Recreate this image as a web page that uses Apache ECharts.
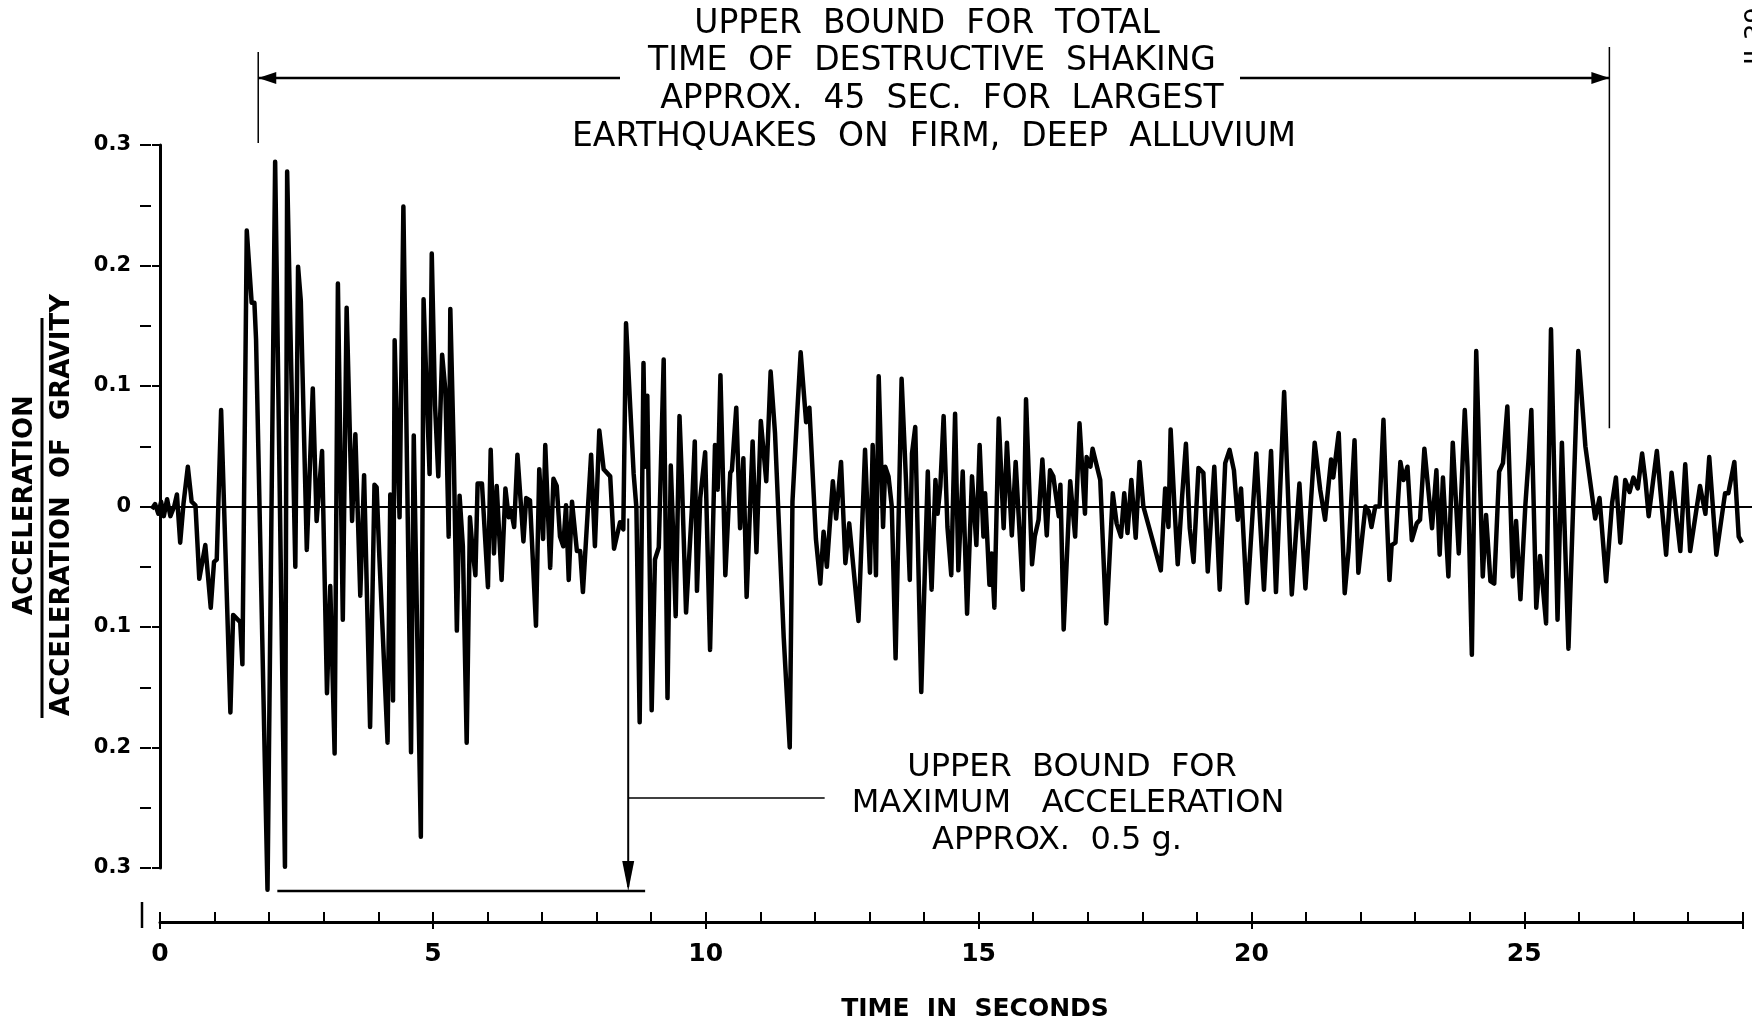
<!DOCTYPE html>
<html>
<head>
<meta charset="utf-8">
<script src="https://cdn.jsdelivr.net/npm/echarts@6/dist/echarts.min.js"></script>
<style>
  html, body { margin: 0; padding: 0; background: #fff; }
  #main { width: 1752px; height: 1025px; }
</style>
</head>
<body>
<div id="main"></div>
<script>
// time (s) of each turning point of the trace
var times = [
  -0.15, -0.09, -0.03, 0.02, 0.07, 0.13, 0.19, 0.26, 0.31, 0.37, 0.43, 0.51, 0.58, 0.65, 0.72, 0.83, 0.93, 0.99, 1.04, 1.12,
  1.29, 1.34, 1.47, 1.51, 1.59, 1.68, 1.73, 1.76, 1.97, 2.11, 2.29, 2.33, 2.48, 2.53, 2.58, 2.69, 2.80, 2.87, 2.97, 3.06,
  3.12, 3.20, 3.26, 3.35, 3.42, 3.52, 3.58, 3.67, 3.74, 3.85, 3.93, 3.97, 4.02, 4.17, 4.22,
  4.27, 4.30, 4.34, 4.39, 4.46, 4.60, 4.65, 4.69, 4.78, 4.83, 4.89, 4.94, 4.98, 5.04, 5.10, 5.17, 5.23, 5.29, 5.32, 5.38,
  5.44, 5.49, 5.55, 5.62, 5.68, 5.73, 5.78, 5.82, 5.90, 6.01, 6.06, 6.12, 6.17, 6.26, 6.33, 6.39, 6.43, 6.49, 6.55, 6.66,
  6.71, 6.78, 6.89, 6.95, 7.02, 7.06, 7.15, 7.21, 7.27, 7.33, 7.39, 7.44, 7.49, 7.55, 7.64, 7.70, 7.75, 7.90, 7.97, 8.05,
  8.13, 8.25, 8.32, 8.43, 8.49, 8.54, 8.62, 8.68,
  8.73, 8.79, 8.86, 8.89, 8.93, 9.01, 9.07, 9.14, 9.23, 9.30, 9.36, 9.40, 9.45, 9.52, 9.56, 9.64, 9.75, 9.80, 9.84, 9.90,
  9.99, 10.08, 10.17, 10.22, 10.27, 10.33, 10.36, 10.45, 10.48, 10.56, 10.63, 10.69, 10.75, 10.86, 10.93, 11.01, 11.11, 11.19, 11.27, 11.43,
  11.54, 11.59, 11.67, 11.74, 11.84, 11.90, 12.02, 12.10, 12.16, 12.22, 12.33, 12.39, 12.48, 12.56, 12.63, 12.80, 12.92, 13.01, 13.06, 13.12,
  13.17, 13.25, 13.29, 13.35, 13.41, 13.48, 13.59, 13.67, 13.74, 13.78, 13.84, 13.95, 14.07, 14.10, 14.14, 14.21, 14.25, 14.30, 14.36, 14.43,
  14.50, 14.57, 14.63, 14.71, 14.79, 14.88, 14.96, 15.02, 15.09, 15.12, 15.20, 15.24, 15.29, 15.37, 15.46, 15.52, 15.61, 15.68, 15.81, 15.87,
  15.98, 16.03, 16.10, 16.17, 16.25, 16.31, 16.37, 16.47, 16.50, 16.56, 16.68, 16.77, 16.85, 16.95, 16.98, 17.05, 17.09, 17.23, 17.34, 17.46,
  17.53, 17.61, 17.67, 17.73, 17.80, 17.88, 17.95, 18.02, 18.34, 18.42, 18.48, 18.52, 18.59, 18.65, 18.73, 18.80, 18.87, 18.94, 19.03, 19.12,
  19.20, 19.32, 19.42, 19.52, 19.60, 19.68, 19.75, 19.81, 19.92, 20.09, 20.23, 20.36, 20.45, 20.60, 20.74, 20.80, 20.88, 20.99, 21.16, 21.26,
  21.35, 21.46, 21.50, 21.60, 21.71, 21.78, 21.89, 21.96,
  22.09, 22.15, 22.20, 22.27, 22.35, 22.42, 22.48, 22.53, 22.57, 22.64, 22.73, 22.79, 22.86, 22.94, 23.03, 23.09, 23.17, 23.31, 23.39, 23.45,
  23.51, 23.61, 23.69, 23.80, 23.91, 23.96, 24.04, 24.12, 24.24, 24.30, 24.38, 24.45, 24.54, 24.61, 24.69, 24.79, 24.85, 24.93, 25.02, 25.08,
  25.13, 25.22, 25.29, 25.40, 25.49, 25.61, 25.69, 25.81, 25.99, 26.12, 26.30,
  26.38, 26.50, 26.61, 26.68, 26.76, 26.85, 26.93, 27.00, 27.08, 27.16, 27.22, 27.28, 27.43, 27.60, 27.70, 27.86, 27.95, 28.04, 28.22, 28.32,
  28.39, 28.52, 28.68, 28.74, 28.85, 28.93, 28.99
];
// acceleration / g at the same points (down is negative)
var accel = [
  -0.002, 0.002, -0.006, 0.004, -0.008, 0.006, -0.008, 0.000, 0.010, -0.030, 0.002, 0.033, 0.004, 0.001, -0.060, -0.032, -0.084, -0.046, -0.044, 0.080,
  -0.171, -0.090, -0.096, -0.131, 0.229, 0.169, 0.169, 0.139, -0.318, 0.286, -0.299, 0.278, -0.050, 0.199, 0.171, -0.036, 0.098, -0.012, 0.046, -0.155,
  -0.066, -0.205, 0.185, -0.094, 0.165, -0.012, 0.060, -0.074, 0.026, -0.183, 0.018, 0.016, -0.042, -0.196, 0.010,
  -0.161, 0.138, 0.067, -0.009, 0.249, -0.204, 0.059, -0.045, -0.274, 0.172, 0.092, 0.027, 0.210, 0.084, 0.025, 0.126, 0.096, -0.025, 0.164, 0.051,
  -0.103, 0.009, -0.033, -0.196, -0.009, -0.037, -0.057, 0.019, 0.019, -0.067, 0.047, -0.039, 0.017, -0.061, 0.015, -0.009, -0.003, -0.017, 0.043, -0.029,
  0.007, 0.005, -0.099, 0.031, -0.027, 0.051, -0.051, 0.023, 0.017, -0.025, -0.033, 0.001, -0.061, 0.004, -0.037, -0.037, -0.071, 0.043, -0.033, 0.063,
  0.031, 0.025, -0.035, -0.013, -0.019, 0.152, 0.080, 0.027,
  -0.001, -0.179, 0.119, 0.033, 0.092, -0.169, -0.044, -0.034, 0.122, -0.159, 0.034, -0.018, -0.091, 0.075, 0.027, -0.088, 0.001, 0.054, -0.070, 0.007,
  0.045, -0.119, 0.051, 0.014, 0.109, -0.001, -0.057, 0.028, 0.030, 0.082, -0.018, 0.040, -0.075, 0.054, -0.038, 0.071, 0.021, 0.112, 0.061, -0.109,
  -0.200, 0.004, 0.072, 0.128, 0.070, 0.082, -0.027, -0.064, -0.021, -0.050, 0.021, -0.010, 0.037, -0.047, -0.014, -0.095, 0.047, -0.055, 0.051, -0.057,
  0.108, -0.017, 0.033, 0.025, 0.000, -0.126, 0.106, 0.022, -0.061, 0.044, 0.066, -0.154, 0.029, -0.025, -0.069, 0.022, -0.006, 0.017, 0.075, -0.017,
  -0.057, 0.077, -0.053, 0.029, -0.089, 0.025, -0.032, 0.051, -0.025, 0.011, -0.065, -0.039, -0.084, 0.073, -0.018, 0.053, -0.024, 0.037, -0.069, 0.089,
  -0.048, -0.025, -0.011, 0.039, -0.024, 0.030, 0.025, -0.008, 0.018, -0.102, 0.021, -0.025, 0.069, -0.006, 0.041, 0.033, 0.048, 0.022, -0.097, 0.011,
  -0.014, -0.025, 0.011, -0.022, 0.022, -0.026, 0.037, 0.000, -0.053, 0.015, -0.017, 0.064, 0.000, -0.048, 0.008, 0.052, -0.018, -0.046, 0.032, 0.028,
  -0.054, 0.033, -0.069, 0.036, 0.047, 0.030, -0.011, 0.015, -0.080, 0.044, -0.069, 0.046, -0.071, 0.095, -0.073, -0.033, 0.019, -0.068, 0.053, 0.014,
  -0.011, 0.039, 0.024, 0.061, -0.072, -0.037, 0.055, -0.055,
  0.000, -0.004, -0.017, 0.000, 0.000, 0.072, -0.006, -0.061, -0.032, -0.030, 0.037, 0.022, 0.033, -0.028, -0.014, -0.011, 0.048, -0.018, 0.030, -0.040,
  0.024, -0.058, 0.053, -0.039, 0.080, 0.033, -0.123, 0.129, -0.058, -0.007, -0.062, -0.064, 0.029, 0.036, 0.083, -0.058, -0.012, -0.077, 0.001, 0.040,
  0.080, -0.084, -0.041, -0.097, 0.147, -0.094, 0.053, -0.118, 0.129, 0.050, -0.010,
  0.007, -0.062, 0.003, 0.024, -0.030, 0.022, 0.012, 0.024, 0.015, 0.044, 0.022, -0.008, 0.046, -0.040, 0.028, -0.037, 0.035, -0.037, 0.017, -0.006,
  0.041, -0.040, 0.011, 0.011, 0.037, -0.025, -0.030
];
var yTickLabels = ['0.3', '0.2', '0.1', '0', '0.1', '0.2', '0.3'];
var xTickLabels = ['0', '5', '10', '15', '20', '25'];

// annotation anchors (seconds / g)
var shakeStart = 1.80, shakeEnd = 26.56, shakeEndLevel = 0.065;
var peakArrowT = 8.58, boundLevel = -0.319, boundFrom = 2.15, boundTo = 8.89;
var pointerLevel = -0.242, pointerTo = 12.18;

var FONT = 'DejaVu Sans';
var PX_PER_SEC = 54.57, T0_X = 160, AXIS_X = 140, RIGHT_X = 1752;

var chart = echarts.init(document.getElementById('main'));

var option = {
  animation: false,
  backgroundColor: '#fff',
  textStyle: { fontFamily: FONT, color: '#000' },
  grid: [
    { left: AXIS_X, top: 145, width: RIGHT_X - AXIS_X, height: 723 },
    { left: T0_X, top: 880, width: 29 * PX_PER_SEC, height: 42 }
  ],
  xAxis: [
    {
      gridIndex: 0, type: 'value', show: false,
      min: (AXIS_X - T0_X) / PX_PER_SEC, max: (RIGHT_X - T0_X) / PX_PER_SEC
    },
    {
      gridIndex: 1, type: 'value', position: 'bottom', min: 0, max: 29, interval: 1,
      axisLine: { lineStyle: { color: '#000', width: 3 } },
      axisTick: { inside: true, length: 10, lineStyle: { color: '#000', width: 2 } },
      axisLabel: { show: false },
      splitLine: { show: false }
    },
    {
      gridIndex: 1, type: 'value', position: 'bottom', min: 0, max: 29, interval: 5,
      axisLine: { show: false },
      axisTick: { length: 7, lineStyle: { color: '#000', width: 2 } },
      axisLabel: {
        margin: 20, fontSize: 25, fontWeight: 'bold', color: '#000', fontFamily: FONT,
        formatter: function (v) {
          return xTickLabels.indexOf(String(v)) >= 0 ? String(v) : ''
        }
      },
      splitLine: { show: false }
    }
  ],
  yAxis: [
    {
      gridIndex: 0, type: 'value', position: 'left', min: -0.3, max: 0.3, interval: 0.1,
      axisLine: { show: true, lineStyle: { color: '#000', width: 3 } },
      axisTick: { show: true, length: 8, lineStyle: { color: '#000', width: 2 } },
      axisLabel: {
        margin: 9, fontSize: 21, fontWeight: 'bold', color: '#000', fontFamily: FONT,
        formatter: function (v) {
          return yTickLabels[Math.round((0.3 - v) / 0.1)]
        }
      },
      splitLine: { show: false }
    },
    {
      gridIndex: 0, type: 'value', position: 'left', offset: 0, min: -0.3, max: 0.3, interval: 0.05,
      axisLine: { show: false },
      axisTick: { show: true, inside: true, length: 11, lineStyle: { color: '#000', width: 2 } },
      axisLabel: { show: false },
      splitLine: { show: false }
    },
    { gridIndex: 1, type: 'value', show: false, min: 0, max: 1 }
  ],
  series: [{
    type: 'line',
    xAxisIndex: 0,
    yAxisIndex: 0,
    data: times.map(function (t, i) { return [t, accel[i]] }),
    symbol: 'none',
    clip: false,
    lineStyle: { color: '#000', width: 4.5, join: 'round' },
    markLine: {
      silent: true,
      symbol: ['none', 'none'],
      label: { show: false },
      lineStyle: { color: '#000', type: 'solid', width: 2 },
      data: [{ yAxis: 0 }]
    }
  }]
};
chart.setOption(option);

// annotations placed through the data axes
function px (t, a) {
  return chart.convertToPixel({ xAxisIndex: 0, yAxisIndex: 0 }, [t, a])
}
function line (x1, y1, x2, y2, w) {
  return { type: 'line', shape: { x1: x1, y1: y1, x2: x2, y2: y2 }, style: { stroke: '#000', lineWidth: w || 2 } }
}
function text (s, x, y, size, weight, rot) {
  return {
    type: 'text', x: x, y: y, rotation: rot || 0,
    style: { text: s, x: 0, y: 0, fill: '#000', font: (weight || 'normal') + ' ' + size + 'px "' + FONT + '"', align: 'center', verticalAlign: 'middle' }
  }
}

var xs = px(shakeStart, 0)[0];
var xe = px(shakeEnd, 0)[0];
var yeBottom = px(shakeEnd, shakeEndLevel)[1];
var xa = px(peakArrowT, 0)[0];
var yaTop = px(peakArrowT, -0.01)[1];
var yb = px(peakArrowT, boundLevel)[1];
var yp = px(peakArrowT, pointerLevel)[1];
var arrowY = 78;

var g = [
  line(xs, 52, xs, 143, 1.5),
  line(xe, 47, xe, yeBottom, 1.5),
  line(xs, arrowY, 620, arrowY, 2.5),
  line(1240, arrowY, xe, arrowY, 2.5),
  { type: 'polygon', shape: { points: [[xs, arrowY], [xs + 18, arrowY - 6], [xs + 18, arrowY + 6]] }, style: { fill: '#000' } },
  { type: 'polygon', shape: { points: [[xe, arrowY], [xe - 18, arrowY - 6], [xe - 18, arrowY + 6]] }, style: { fill: '#000' } },
  text('UPPER  BOUND  FOR  TOTAL', 927, 24, 33),
  text('TIME  OF  DESTRUCTIVE  SHAKING', 932, 61, 33),
  text('APPROX.  45  SEC.  FOR  LARGEST', 942, 99, 33),
  text('EARTHQUAKES  ON  FIRM,  DEEP  ALLUVIUM', 934, 137, 33),

  line(xa, yaTop, xa, yb - 4, 2),
  { type: 'polygon', shape: { points: [[xa, yb], [xa - 6, yb - 30], [xa + 6, yb - 30]] }, style: { fill: '#000' } },
  line(px(boundFrom, 0)[0], yb, px(boundTo, 0)[0], yb, 2.5),
  line(xa, yp, px(pointerTo, 0)[0], yp, 1.5),
  text('UPPER  BOUND  FOR', 1072, 768, 32),
  text('MAXIMUM   ACCELERATION', 1068, 804, 32),
  text('APPROX.  0.5 g.', 1057, 841, 32),

  text('ACCELERATION', 25, 505, 26, 'bold', Math.PI / 2),
  line(42, 318, 42, 718, 3),
  text('ACCELERATION  OF  GRAVITY', 62, 505, 26, 'bold', Math.PI / 2),

  text('TIME  IN  SECONDS', 975, 1009, 25, 'bold'),
  text('II-39', 1757, 36, 26, 'normal', Math.PI / 2),
  line(142, 902, 142, 928, 2.5)
];
chart.setOption({ graphic: g });
</script>
</body>
</html>
